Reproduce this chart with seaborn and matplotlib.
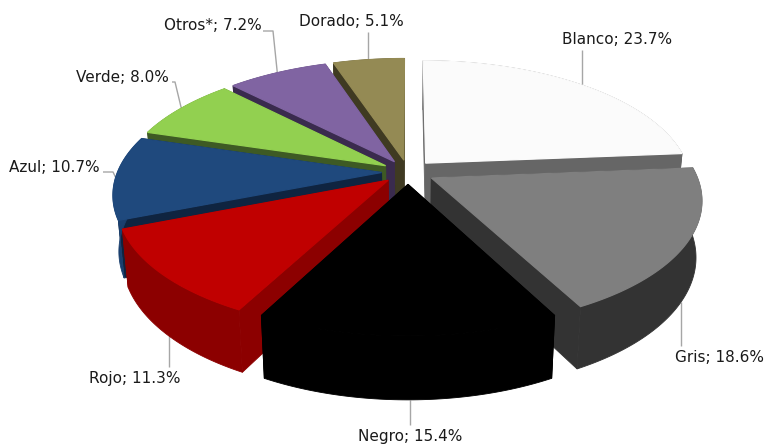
import numpy as np
import matplotlib.pyplot as plt
import seaborn as sns

# share per colour, clockwise from 12 o'clock
names = ["Blanco", "Gris", "Negro", "Rojo", "Azul", "Verde", "Otros*", "Dorado"]
shares = [23.7, 18.6, 15.4, 11.3, 10.7, 8.0, 7.2, 5.1]
top_hex = ["#FBFBFB", "#7F7F7F", "#000000", "#C00000", "#1F497D", "#92D050", "#8064A2", "#948A54"]
side_hex = ["#666666", "#333333", "#000000", "#8C0000", "#0F2440", "#3E5A24", "#3A2B4E", "#3F3A22"]
outer_hex = ["#666666", "#333333", "#000000", "#8C0000", "#1A3F6E", "#3E5A24", "#3A2B4E", "#3F3A22"]

# label text anchor (left x, centre y) and leader end in pixels
label_x = [562, 675, 358, 89, 9, 76, 164, 299]
label_y = [39, 358, 436, 378, 168, 77, 26, 22]
leader_x = [582, 681, 410, 169, 103, 172, 263, 368]
leader_y = [50, 346, 425, 367, 172, 82, 31, 32]
elbow_x = [None, None, None, None, 113, 175, 273, None]

# back slices get painted first
paint_order = [0, 7, 6, 5, 4, 3, 1, 2]
on_bottom = [False, True, True, True, False, False, False, False]

CX, CY = 408, 172
RX, RY = 264, 122
PERSP = 0.165
EXPLODE = 0.1
DEPTH = 55
SHRINK = 0.98

sns.set_theme(style="white")
plt.rcParams["font.family"] = ["DejaVu Sans"]


def project(x, y, bottom=False):
    w = 1 + PERSP * y
    sx = RX * x / w
    sy = -RY * y / w
    if bottom:
        return CX + sx * SHRINK, CY + sy * SHRINK + DEPTH / w
    return CX + sx, CY + sy


def arc(th0, th1, mid, bottom=False):
    th = np.radians(np.linspace(th0, th1, 80))
    ox, oy = EXPLODE * np.sin(np.radians(mid)), EXPLODE * np.cos(np.radians(mid))
    return project(np.sin(th) + ox, np.cos(th) + oy, bottom)


def apex(mid, bottom=False):
    return project(np.array([EXPLODE * np.sin(np.radians(mid))]),
                   np.array([EXPLODE * np.cos(np.radians(mid))]), bottom)


fig, ax = plt.subplots(figsize=(7.64, 4.45), dpi=100)
ax.set_position([0, 0, 1, 1])
ax.set_xlim(0, 764)
ax.set_ylim(445, 0)
ax.axis("off")

ends = np.cumsum(shares) / np.sum(shares) * 360
starts = np.r_[0, ends[:-1]]
mids = (starts + ends) / 2

for i in paint_order:
    tx, ty = arc(starts[i], ends[i], mids[i])
    bx, by = arc(starts[i], ends[i], mids[i], True)
    ax_, ay_ = apex(mids[i])
    abx, aby = apex(mids[i], True)
    # the two cut faces
    for k in (0, -1):
        ax.fill([ax_[0], tx[k], bx[k], abx[0]], [ay_[0], ty[k], by[k], aby[0]],
                color=side_hex[i], lw=0.6, zorder=2)
    # rim
    ax.fill(np.r_[tx, bx[::-1]], np.r_[ty, by[::-1]], color=outer_hex[i], lw=0.6, zorder=2)
    # top
    ax.fill(np.r_[ax_, tx], np.r_[ay_, ty], color=top_hex[i], lw=0.9, zorder=2)

# leaders run under the slices so they stop at the slice edge
for i, name in enumerate(names):
    mx, my = arc(mids[i], mids[i], mids[i], on_bottom[i])
    if elbow_x[i] is not None:
        px = [mx[0], elbow_x[i], leader_x[i]]
        py = [my[0], leader_y[i], leader_y[i]]
    else:
        px = [leader_x[i], leader_x[i]]
        py = [my[0], leader_y[i]]
    ax.plot(px, py, color="#A6A6A6", lw=1, solid_capstyle="butt", zorder=1)
    ax.text(label_x[i], label_y[i], f"{name}; {shares[i]:.1f}%", ha="left", va="center",
            fontsize=11, color="#1A1A1A", zorder=3)

plt.savefig("out.png", dpi=100)
